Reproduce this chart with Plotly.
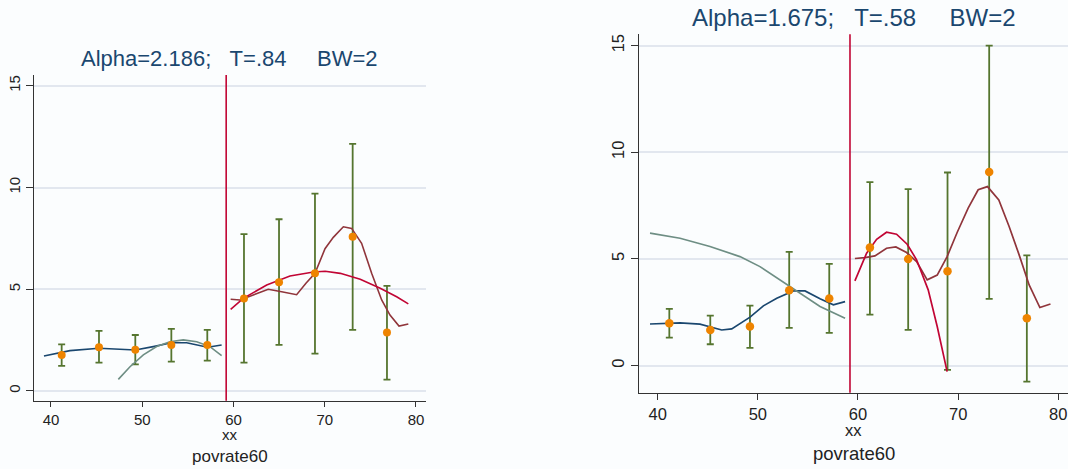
import plotly.graph_objects as go

# ---- Left panel: bandwidth 2, Alpha=2.186 ----
bin_x_l = [41.17, 45.26, 49.24, 53.19, 57.13, 61.15, 64.99, 68.93, 73.06, 76.82]
bin_mean_l = [1.77, 2.15, 2.03, 2.26, 2.26, 4.55, 5.34, 5.78, 7.58, 2.87]
ci_lo_l = [1.23, 1.39, 1.31, 1.44, 1.49, 1.39, 2.26, 1.83, 3.00, 0.56]
ci_hi_l = [2.29, 2.95, 2.75, 3.05, 3.00, 7.71, 8.44, 9.70, 12.14, 5.16]

loc_below_x_l = [39.23, 42.08, 45.26, 47.20, 49.24, 51.21, 53.19, 54.87, 57.17, 58.70]
loc_below_y_l = [1.72, 1.98, 2.10, 2.05, 2.01, 2.18, 2.37, 2.37, 2.15, 2.26]
quad_below_x_l = [47.38, 48.66, 50.12, 51.58, 53.04, 54.50, 55.97, 57.42, 58.70]
quad_below_y_l = [0.57, 1.19, 1.77, 2.18, 2.42, 2.51, 2.42, 2.18, 1.74]

loc_above_x_l = [59.69, 60.71, 62.17, 63.81, 65.28, 66.92, 67.94, 68.93, 70.03, 70.94,
                 72.04, 72.95, 74.04, 75.14, 76.24, 77.15, 78.14, 79.16]
loc_above_y_l = [4.51, 4.47, 4.72, 5.00, 4.88, 4.73, 5.29, 5.78, 6.99, 7.55,
                 8.07, 7.99, 7.26, 5.78, 4.47, 3.73, 3.19, 3.29]
quad_above_x_l = [59.69, 61.07, 63.64, 66.19, 68.77, 70.05, 71.70, 73.89, 76.08, 77.88, 79.16]
quad_above_y_l = [4.01, 4.55, 5.21, 5.65, 5.85, 5.88, 5.78, 5.49, 5.05, 4.63, 4.28]

# ---- Right panel: bandwidth 2, Alpha=1.675 ----
bin_x_r = [41.16, 45.25, 49.21, 53.13, 57.13, 61.19, 65.01, 68.94, 73.10, 76.86]
bin_mean_r = [1.99, 1.67, 1.83, 3.53, 3.14, 5.53, 5.00, 4.42, 9.08, 2.22]
ci_lo_r = [1.31, 1.00, 0.83, 1.77, 1.53, 2.39, 1.67, -0.20, 3.13, -0.75]
ci_hi_r = [2.66, 2.34, 2.81, 5.33, 4.77, 8.60, 8.27, 9.05, 15.00, 5.17]

loc_below_x_r = [39.23, 42.23, 44.22, 46.39, 47.39, 49.22, 50.55, 51.89, 53.55, 54.71,
                 56.21, 57.54, 58.71]
loc_below_y_r = [1.95, 2.00, 1.94, 1.67, 1.72, 2.27, 2.80, 3.16, 3.50, 3.50,
                 3.13, 2.85, 3.00]
quad_below_x_r = [39.23, 42.23, 45.22, 48.21, 50.21, 52.20, 54.20, 56.21, 58.71]
quad_below_y_r = [6.21, 5.97, 5.58, 5.11, 4.64, 4.02, 3.39, 2.77, 2.22]

loc_above_x_r = [59.69, 60.69, 61.69, 62.85, 63.78, 64.85, 65.85, 66.91, 67.91, 68.90,
                 69.90, 71.00, 72.00, 72.93, 74.06, 75.09, 76.09, 77.09, 78.16, 79.22]
loc_above_y_r = [5.02, 5.06, 5.14, 5.50, 5.56, 5.30, 4.88, 4.02, 4.24, 5.11,
                 6.24, 7.38, 8.24, 8.39, 7.77, 6.52, 5.19, 3.78, 2.72, 2.89]
quad_above_x_r = [59.69, 60.86, 61.86, 62.85, 63.85, 64.91, 65.85, 67.01, 67.91, 68.90]
quad_above_y_r = [3.97, 5.27, 5.92, 6.25, 6.16, 5.69, 4.96, 3.55, 1.83, -0.28]

cutoff = 59.2
y_ticks = [0, 5, 10, 15]
x_ticks = [40, 50, 60, 70, 80]
titles = ["Alpha=2.186;\u00a0\u00a0\u00a0T=.84\u00a0\u00a0\u00a0\u00a0\u00a0BW=2",
          "Alpha=1.675;\u00a0\u00a0\u00a0T=.58\u00a0\u00a0\u00a0\u00a0\u00a0BW=2"]

NAVY = "#1a476f"
TEAL = "#6e8e84"
MAROON = "#90353b"
CRANBERRY = "#c10534"
FOREST = "#55752f"
ORANGE = "#ee8400"
BG = "#fbfdfe"
FONT = "Liberation Sans"

fig = go.Figure()


def add_panel(xa, ya, bx, bm, lo, hi, lbx, lby, qbx, qby, lax, lay, qax, qay, msize, lw):
    fig.add_trace(go.Scatter(
        x=bx, y=bm, mode="markers", xaxis=xa, yaxis=ya,
        marker=dict(size=1, color="rgba(0,0,0,0)"),
        error_y=dict(type="data", symmetric=False,
                     array=[h - m for h, m in zip(hi, bm)],
                     arrayminus=[m - l for m, l in zip(bm, lo)],
                     color=FOREST, thickness=1.8, width=3.5),
        showlegend=False, hoverinfo="skip"))
    for xs, ys, c in [(lbx, lby, NAVY), (qbx, qby, TEAL), (lax, lay, MAROON), (qax, qay, CRANBERRY)]:
        fig.add_trace(go.Scatter(x=xs, y=ys, mode="lines", xaxis=xa, yaxis=ya,
                                 line=dict(color=c, width=lw), showlegend=False))
    fig.add_trace(go.Scatter(x=bx, y=bm, mode="markers", xaxis=xa, yaxis=ya,
                             marker=dict(size=msize, color=ORANGE), showlegend=False))


add_panel("x", "y", bin_x_l, bin_mean_l, ci_lo_l, ci_hi_l,
          loc_below_x_l, loc_below_y_l, quad_below_x_l, quad_below_y_l,
          loc_above_x_l, loc_above_y_l, quad_above_x_l, quad_above_y_l, 8, 1.6)
add_panel("x2", "y2", bin_x_r, bin_mean_r, ci_lo_r, ci_hi_r,
          loc_below_x_r, loc_below_y_r, quad_below_x_r, quad_below_y_r,
          loc_above_x_r, loc_above_y_r, quad_above_x_r, quad_above_y_r, 8.5, 1.7)

axis_common = dict(showline=True, linecolor="#333333", linewidth=1.4, ticks="outside",
                   tickcolor="#333333", tickwidth=1.2, zeroline=False, mirror=False)

fig.update_layout(
    width=1068, height=469, margin=dict(l=0, r=0, t=0, b=0),
    paper_bgcolor=BG, plot_bgcolor=BG,
    font=dict(family=FONT, color="#222222"),
    xaxis=dict(domain=[0.0321, 0.3989], range=[38.17, 81.1], tickvals=x_ticks,
               ticklen=5, showgrid=False, anchor="y", tickfont=dict(size=15), **axis_common),
    yaxis=dict(domain=[0.1456, 0.8401], range=[-0.48, 15.53], tickvals=y_ticks,
               ticklen=7, showgrid=True, gridcolor="#e2e7ef", gridwidth=1.5, anchor="x",
               tickangle=-90, tickfont=dict(size=15), **axis_common),
    xaxis2=dict(domain=[0.5983, 1.0], range=[38.13, 80.97], tickvals=x_ticks,
                ticklen=6, showgrid=False, anchor="y2", tickfont=dict(size=16.5), **axis_common),
    yaxis2=dict(domain=[0.1627, 0.9269], range=[-1.27, 15.53], tickvals=y_ticks,
                ticklen=7, showgrid=True, gridcolor="#e2e7ef", gridwidth=1.5, anchor="x2",
                tickangle=-90, tickfont=dict(size=16.5), **axis_common),
)

for xa, ya in [("x", "y"), ("x2", "y2")]:
    fig.add_shape(type="line", xref=xa, yref=f"{ya} domain", x0=cutoff, x1=cutoff, y0=0, y1=1,
                  line=dict(color=CRANBERRY, width=1.6))

# titles and axis labels
fig.add_annotation(text=titles[0], xref="paper", yref="paper", x=229 / 1068, y=1 - 59 / 469,
                   showarrow=False, xanchor="center", yanchor="middle",
                   font=dict(size=22, color=NAVY, family=FONT))
fig.add_annotation(text=titles[1], xref="paper", yref="paper", x=853.5 / 1068, y=1 - 18 / 469,
                   showarrow=False, xanchor="center", yanchor="middle",
                   font=dict(size=24, color=NAVY, family=FONT))
for cx, y_xx, y_pv, s1, s2 in [(230, 434, 456, 15, 17), (853.5, 430, 453, 16.5, 18.5)]:
    fig.add_annotation(text="xx", xref="paper", yref="paper", x=cx / 1068, y=1 - y_xx / 469,
                       showarrow=False, xanchor="center", yanchor="middle",
                       font=dict(size=s1, color="#222222", family=FONT))
    fig.add_annotation(text="povrate60", xref="paper", yref="paper", x=cx / 1068, y=1 - y_pv / 469,
                       showarrow=False, xanchor="center", yanchor="middle",
                       font=dict(size=s2, color="#222222", family=FONT))

fig.write_html("out.html")
